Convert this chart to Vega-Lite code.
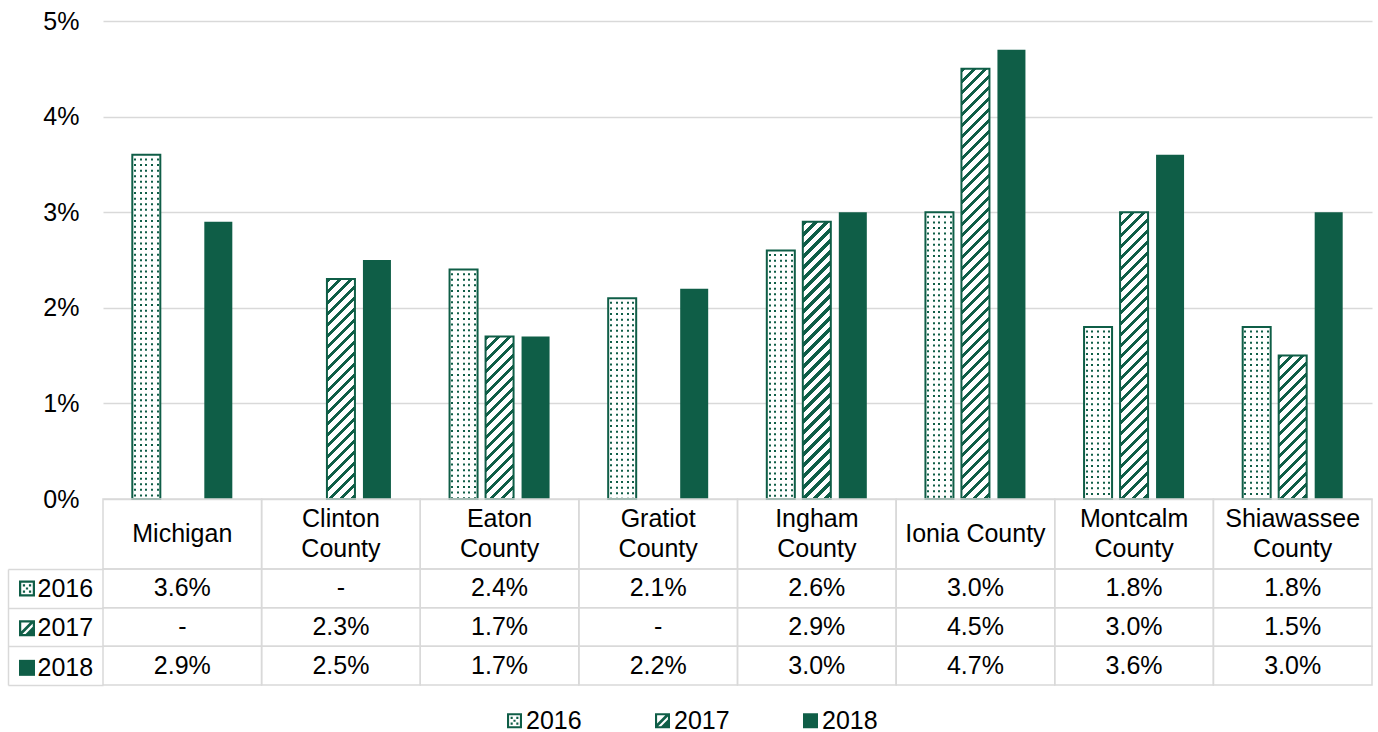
{
  "$schema": "https://vega.github.io/schema/vega-lite/v6.json",
  "background": "white",
  "padding": {"left": 7, "top": 9, "right": 0, "bottom": 0},
  "config": {
    "view": {"stroke": null},
    "font": "Liberation Sans",
    "text": {"font": "Liberation Sans"},
    "axis": {"labelFont": "Liberation Sans"},
    "legend": {"labelFont": "Liberation Sans"}
  },
  "params": [
    {"name": "hatch", "value": [
      {"offset":0,"color":"#0f5e47"},{"offset":0.00974,"color":"#0f5e47"},{"offset":0.00974,"color":"#ffffff"},{"offset":0.02381,"color":"#ffffff"},
      {"offset":0.02381,"color":"#0f5e47"},{"offset":0.03355,"color":"#0f5e47"},{"offset":0.03355,"color":"#ffffff"},{"offset":0.04762,"color":"#ffffff"},
      {"offset":0.04762,"color":"#0f5e47"},{"offset":0.05736,"color":"#0f5e47"},{"offset":0.05736,"color":"#ffffff"},{"offset":0.07143,"color":"#ffffff"},
      {"offset":0.07143,"color":"#0f5e47"},{"offset":0.08117,"color":"#0f5e47"},{"offset":0.08117,"color":"#ffffff"},{"offset":0.09524,"color":"#ffffff"},
      {"offset":0.09524,"color":"#0f5e47"},{"offset":0.10498,"color":"#0f5e47"},{"offset":0.10498,"color":"#ffffff"},{"offset":0.11905,"color":"#ffffff"},
      {"offset":0.11905,"color":"#0f5e47"},{"offset":0.12879,"color":"#0f5e47"},{"offset":0.12879,"color":"#ffffff"},{"offset":0.14286,"color":"#ffffff"},
      {"offset":0.14286,"color":"#0f5e47"},{"offset":0.1526,"color":"#0f5e47"},{"offset":0.1526,"color":"#ffffff"},{"offset":0.16667,"color":"#ffffff"},
      {"offset":0.16667,"color":"#0f5e47"},{"offset":0.17641,"color":"#0f5e47"},{"offset":0.17641,"color":"#ffffff"},{"offset":0.19048,"color":"#ffffff"},
      {"offset":0.19048,"color":"#0f5e47"},{"offset":0.20022,"color":"#0f5e47"},{"offset":0.20022,"color":"#ffffff"},{"offset":0.21429,"color":"#ffffff"},
      {"offset":0.21429,"color":"#0f5e47"},{"offset":0.22403,"color":"#0f5e47"},{"offset":0.22403,"color":"#ffffff"},{"offset":0.2381,"color":"#ffffff"},
      {"offset":0.2381,"color":"#0f5e47"},{"offset":0.24784,"color":"#0f5e47"},{"offset":0.24784,"color":"#ffffff"},{"offset":0.2619,"color":"#ffffff"},
      {"offset":0.2619,"color":"#0f5e47"},{"offset":0.27164,"color":"#0f5e47"},{"offset":0.27164,"color":"#ffffff"},{"offset":0.28571,"color":"#ffffff"},
      {"offset":0.28571,"color":"#0f5e47"},{"offset":0.29545,"color":"#0f5e47"},{"offset":0.29545,"color":"#ffffff"},{"offset":0.30952,"color":"#ffffff"},
      {"offset":0.30952,"color":"#0f5e47"},{"offset":0.31926,"color":"#0f5e47"},{"offset":0.31926,"color":"#ffffff"},{"offset":0.33333,"color":"#ffffff"},
      {"offset":0.33333,"color":"#0f5e47"},{"offset":0.34307,"color":"#0f5e47"},{"offset":0.34307,"color":"#ffffff"},{"offset":0.35714,"color":"#ffffff"},
      {"offset":0.35714,"color":"#0f5e47"},{"offset":0.36688,"color":"#0f5e47"},{"offset":0.36688,"color":"#ffffff"},{"offset":0.38095,"color":"#ffffff"},
      {"offset":0.38095,"color":"#0f5e47"},{"offset":0.39069,"color":"#0f5e47"},{"offset":0.39069,"color":"#ffffff"},{"offset":0.40476,"color":"#ffffff"},
      {"offset":0.40476,"color":"#0f5e47"},{"offset":0.4145,"color":"#0f5e47"},{"offset":0.4145,"color":"#ffffff"},{"offset":0.42857,"color":"#ffffff"},
      {"offset":0.42857,"color":"#0f5e47"},{"offset":0.43831,"color":"#0f5e47"},{"offset":0.43831,"color":"#ffffff"},{"offset":0.45238,"color":"#ffffff"},
      {"offset":0.45238,"color":"#0f5e47"},{"offset":0.46212,"color":"#0f5e47"},{"offset":0.46212,"color":"#ffffff"},{"offset":0.47619,"color":"#ffffff"},
      {"offset":0.47619,"color":"#0f5e47"},{"offset":0.48593,"color":"#0f5e47"},{"offset":0.48593,"color":"#ffffff"},{"offset":0.5,"color":"#ffffff"},
      {"offset":0.5,"color":"#0f5e47"},{"offset":0.50974,"color":"#0f5e47"},{"offset":0.50974,"color":"#ffffff"},{"offset":0.52381,"color":"#ffffff"},
      {"offset":0.52381,"color":"#0f5e47"},{"offset":0.53355,"color":"#0f5e47"},{"offset":0.53355,"color":"#ffffff"},{"offset":0.54762,"color":"#ffffff"},
      {"offset":0.54762,"color":"#0f5e47"},{"offset":0.55736,"color":"#0f5e47"},{"offset":0.55736,"color":"#ffffff"},{"offset":0.57143,"color":"#ffffff"},
      {"offset":0.57143,"color":"#0f5e47"},{"offset":0.58117,"color":"#0f5e47"},{"offset":0.58117,"color":"#ffffff"},{"offset":0.59524,"color":"#ffffff"},
      {"offset":0.59524,"color":"#0f5e47"},{"offset":0.60498,"color":"#0f5e47"},{"offset":0.60498,"color":"#ffffff"},{"offset":0.61905,"color":"#ffffff"},
      {"offset":0.61905,"color":"#0f5e47"},{"offset":0.62879,"color":"#0f5e47"},{"offset":0.62879,"color":"#ffffff"},{"offset":0.64286,"color":"#ffffff"},
      {"offset":0.64286,"color":"#0f5e47"},{"offset":0.6526,"color":"#0f5e47"},{"offset":0.6526,"color":"#ffffff"},{"offset":0.66667,"color":"#ffffff"},
      {"offset":0.66667,"color":"#0f5e47"},{"offset":0.67641,"color":"#0f5e47"},{"offset":0.67641,"color":"#ffffff"},{"offset":0.69048,"color":"#ffffff"},
      {"offset":0.69048,"color":"#0f5e47"},{"offset":0.70022,"color":"#0f5e47"},{"offset":0.70022,"color":"#ffffff"},{"offset":0.71429,"color":"#ffffff"},
      {"offset":0.71429,"color":"#0f5e47"},{"offset":0.72403,"color":"#0f5e47"},{"offset":0.72403,"color":"#ffffff"},{"offset":0.7381,"color":"#ffffff"},
      {"offset":0.7381,"color":"#0f5e47"},{"offset":0.74784,"color":"#0f5e47"},{"offset":0.74784,"color":"#ffffff"},{"offset":0.7619,"color":"#ffffff"},
      {"offset":0.7619,"color":"#0f5e47"},{"offset":0.77164,"color":"#0f5e47"},{"offset":0.77164,"color":"#ffffff"},{"offset":0.78571,"color":"#ffffff"},
      {"offset":0.78571,"color":"#0f5e47"},{"offset":0.79545,"color":"#0f5e47"},{"offset":0.79545,"color":"#ffffff"},{"offset":0.80952,"color":"#ffffff"},
      {"offset":0.80952,"color":"#0f5e47"},{"offset":0.81926,"color":"#0f5e47"},{"offset":0.81926,"color":"#ffffff"},{"offset":0.83333,"color":"#ffffff"},
      {"offset":0.83333,"color":"#0f5e47"},{"offset":0.84307,"color":"#0f5e47"},{"offset":0.84307,"color":"#ffffff"},{"offset":0.85714,"color":"#ffffff"},
      {"offset":0.85714,"color":"#0f5e47"},{"offset":0.86688,"color":"#0f5e47"},{"offset":0.86688,"color":"#ffffff"},{"offset":0.88095,"color":"#ffffff"},
      {"offset":0.88095,"color":"#0f5e47"},{"offset":0.89069,"color":"#0f5e47"},{"offset":0.89069,"color":"#ffffff"},{"offset":0.90476,"color":"#ffffff"},
      {"offset":0.90476,"color":"#0f5e47"},{"offset":0.9145,"color":"#0f5e47"},{"offset":0.9145,"color":"#ffffff"},{"offset":0.92857,"color":"#ffffff"},
      {"offset":0.92857,"color":"#0f5e47"},{"offset":0.93831,"color":"#0f5e47"},{"offset":0.93831,"color":"#ffffff"},{"offset":0.95238,"color":"#ffffff"},
      {"offset":0.95238,"color":"#0f5e47"},{"offset":0.96212,"color":"#0f5e47"},{"offset":0.96212,"color":"#ffffff"},{"offset":0.97619,"color":"#ffffff"},
      {"offset":0.97619,"color":"#0f5e47"},{"offset":0.98593,"color":"#0f5e47"},{"offset":0.98593,"color":"#ffffff"},{"offset":1,"color":"#ffffff"}
    ]}
  ],
  "datasets": {
    "rates": [
      {"area": "Michigan", "year": "2016", "pct": 0.036},
      {"area": "Michigan", "year": "2017", "pct": null},
      {"area": "Michigan", "year": "2018", "pct": 0.029},
      {"area": "Clinton\nCounty", "year": "2016", "pct": null},
      {"area": "Clinton\nCounty", "year": "2017", "pct": 0.023},
      {"area": "Clinton\nCounty", "year": "2018", "pct": 0.025},
      {"area": "Eaton\nCounty", "year": "2016", "pct": 0.024},
      {"area": "Eaton\nCounty", "year": "2017", "pct": 0.017},
      {"area": "Eaton\nCounty", "year": "2018", "pct": 0.017},
      {"area": "Gratiot\nCounty", "year": "2016", "pct": 0.021},
      {"area": "Gratiot\nCounty", "year": "2017", "pct": null},
      {"area": "Gratiot\nCounty", "year": "2018", "pct": 0.022},
      {"area": "Ingham\nCounty", "year": "2016", "pct": 0.026},
      {"area": "Ingham\nCounty", "year": "2017", "pct": 0.029},
      {"area": "Ingham\nCounty", "year": "2018", "pct": 0.030},
      {"area": "Ionia County", "year": "2016", "pct": 0.030},
      {"area": "Ionia County", "year": "2017", "pct": 0.045},
      {"area": "Ionia County", "year": "2018", "pct": 0.047},
      {"area": "Montcalm\nCounty", "year": "2016", "pct": 0.018},
      {"area": "Montcalm\nCounty", "year": "2017", "pct": 0.030},
      {"area": "Montcalm\nCounty", "year": "2018", "pct": 0.036},
      {"area": "Shiawassee\nCounty", "year": "2016", "pct": 0.018},
      {"area": "Shiawassee\nCounty", "year": "2017", "pct": 0.015},
      {"area": "Shiawassee\nCounty", "year": "2018", "pct": 0.030}
    ]
  },
  "spacing": 0,
  "bounds": "flush",
  "resolve": {
    "scale": {"x": "independent", "y": "independent", "shape": "independent"},
    "legend": {"shape": "independent"}
  },
  "vconcat": [
    {
      "width": 1269,
      "height": 478,
      "data": {"name": "rates"},
      "encoding": {
        "x": {"field": "area", "type": "nominal", "axis": null,
              "scale": {"domain": ["Michigan","Clinton\nCounty","Eaton\nCounty","Gratiot\nCounty","Ingham\nCounty","Ionia County","Montcalm\nCounty","Shiawassee\nCounty"], "paddingInner": 0.36958, "paddingOuter": 0.18479}},
        "xOffset": {"field": "year", "type": "nominal",
              "scale": {"domain": ["2016","2017","2018"], "paddingInner": 0.22222, "paddingOuter": 0}},
        "y": {"field": "pct", "type": "quantitative", "stack": null,
              "scale": {"domain": [0, 0.05], "nice": false},
              "axis": {"values": [0, 0.01, 0.02, 0.03, 0.04, 0.05], "format": ".0%", "grid": true,
                       "gridColor": "#d9d9d9", "gridWidth": 1.5, "domain": false, "ticks": false,
                       "labelFontSize": 25, "labelColor": "#000000", "labelPadding": 24, "title": null}}
      },
      "layer": [
        {
          "transform": [{"filter": "datum.year === '2016' && isValid(datum.pct)"}],
          "mark": {"type": "bar", "strokeWidth": 0,
                   "fill": {"gradient": "linear", "x1": 0, "y1": 0, "x2": 1, "y2": 0, "stops": [
                     {"offset": 0, "color": "#ffffff"}, {"offset": 0.0643, "color": "#ffffff"},
                     {"offset": 0.0643, "color": "#0f5e47"}, {"offset": 0.1357, "color": "#0f5e47"},
                     {"offset": 0.1357, "color": "#ffffff"}, {"offset": 0.2643, "color": "#ffffff"},
                     {"offset": 0.2643, "color": "#0f5e47"}, {"offset": 0.3357, "color": "#0f5e47"},
                     {"offset": 0.3357, "color": "#ffffff"}, {"offset": 0.4643, "color": "#ffffff"},
                     {"offset": 0.4643, "color": "#0f5e47"}, {"offset": 0.5357, "color": "#0f5e47"},
                     {"offset": 0.5357, "color": "#ffffff"}, {"offset": 0.6643, "color": "#ffffff"},
                     {"offset": 0.6643, "color": "#0f5e47"}, {"offset": 0.7357, "color": "#0f5e47"},
                     {"offset": 0.7357, "color": "#ffffff"}, {"offset": 0.8643, "color": "#ffffff"},
                     {"offset": 0.8643, "color": "#0f5e47"}, {"offset": 0.9357, "color": "#0f5e47"},
                     {"offset": 0.9357, "color": "#ffffff"}, {"offset": 1, "color": "#ffffff"}
                   ]}}
        },
        {
          "transform": [{"filter": "datum.year === '2016' && isValid(datum.pct)"}],
          "mark": {"type": "rule", "color": "#ffffff", "strokeWidth": 26, "strokeDash": [3.6, 2]},
          "encoding": {"y2": {"datum": 0}}
        },
        {
          "transform": [{"filter": "datum.year === '2016' && isValid(datum.pct)"}],
          "mark": {"type": "bar", "fill": "transparent", "stroke": "#0f5e47", "strokeWidth": 2}
        },
        {
          "transform": [{"filter": "datum.year === '2017' && isValid(datum.pct)"}],
          "mark": {"type": "bar", "stroke": "#0f5e47", "strokeWidth": 2,
                   "fill": {"expr": "{gradient: 'linear', x1: 0, y1: 0, x2: 12936 / (784 + pow(datum.pct * 9560, 2)), y2: 462 * datum.pct * 9560 / (784 + pow(datum.pct * 9560, 2)), stops: hatch}"}}
        },
        {
          "transform": [{"filter": "datum.year === '2018' && isValid(datum.pct)"}],
          "mark": {"type": "bar", "color": "#0f5e47", "strokeWidth": 0}
        },
        {
          "transform": [{"filter": "false"}],
          "mark": {"type": "point", "filled": true, "color": "#0f5e47", "opacity": 1, "strokeWidth": 0, "size": 225},
          "encoding": {
            "shape": {"field": "year", "type": "nominal",
              "scale": {"domain": ["2016","2017","2018"], "range": [
                "M-1,-1L1,-1L1,1L-1,1Z M-0.72,-0.72L-0.72,0.72L0.72,0.72L0.72,-0.72Z M-0.52,-0.52L-0.24,-0.52L-0.24,-0.24L-0.52,-0.24Z M0.24,-0.52L0.52,-0.52L0.52,-0.24L0.24,-0.24Z M-0.52,0.24L-0.24,0.24L-0.24,0.52L-0.52,0.52Z M0.24,0.24L0.52,0.24L0.52,0.52L0.24,0.52Z M-0.14,-0.14L0.14,-0.14L0.14,0.14L-0.14,0.14Z",
                "M-1,-1L1,-1L1,1L-1,1Z M-0.72,-0.72L-0.72,0.72L0.72,0.72L0.72,-0.72Z M-0.72,0.37L0.37,-0.72L0.72,-0.72L0.72,-0.57L-0.57,0.72L-0.72,0.72Z M0.72,-0.17L0.72,0.72L-0.17,0.72Z",
                "M-1,-1L1,-1L1,1L-1,1Z"]},
              "legend": {"orient": "none", "legendX": 399, "legendY": 687, "direction": "horizontal",
                "title": null, "symbolSize": 225, "symbolStrokeWidth": 0, "symbolFillColor": "#0f5e47",
                "symbolOpacity": 1, "labelFontSize": 25, "labelColor": "#000000", "labelOffset": -1,
                "columnPadding": 68, "padding": 0}
            }
          }
        }
      ]
    },
    {
      "width": 1269,
      "height": 70,
      "data": {"name": "rates"},
      "transform": [{"filter": "datum.year === '2016'"}],
      "encoding": {
        "x": {"field": "area", "type": "nominal", "axis": null,
              "scale": {"domain": ["Michigan","Clinton\nCounty","Eaton\nCounty","Gratiot\nCounty","Ingham\nCounty","Ionia County","Montcalm\nCounty","Shiawassee\nCounty"], "paddingInner": 0, "paddingOuter": 0}}
      },
      "layer": [
        {"mark": {"type": "rect", "fill": "transparent", "stroke": "#d9d9d9", "strokeWidth": 1.5}},
        {"mark": {"type": "text", "fontSize": 25, "lineBreak": "\n", "lineHeight": 30, "color": "#000000", "baseline": "middle",
                  "dy": {"expr": "indexof(datum.area, '\\n') >= 0 ? -15 : 0"}},
         "encoding": {"text": {"field": "area", "type": "nominal"}}}
      ]
    },
    {
      "width": 1269,
      "height": 116,
      "data": {"name": "rates"},
      "encoding": {
        "x": {"field": "area", "type": "nominal", "axis": null,
              "scale": {"domain": ["Michigan","Clinton\nCounty","Eaton\nCounty","Gratiot\nCounty","Ingham\nCounty","Ionia County","Montcalm\nCounty","Shiawassee\nCounty"], "paddingInner": 0, "paddingOuter": 0}},
        "y": {"field": "year", "type": "nominal",
              "scale": {"domain": ["2016","2017","2018"], "paddingInner": 0, "paddingOuter": 0},
              "axis": {"orient": "left", "offset": 95, "tickBand": "extent", "tickSize": -95,
                       "tickColor": "#d9d9d9", "tickWidth": 1.5, "domainColor": "#d9d9d9", "domainWidth": 1.5,
                       "labels": false, "title": null, "grid": false}}
      },
      "layer": [
        {"mark": {"type": "rect", "fill": "transparent", "stroke": "#d9d9d9", "strokeWidth": 1.5}},
        {"mark": {"type": "text", "fontSize": 25, "color": "#000000", "baseline": "middle"},
         "encoding": {"text": {"field": "pct", "type": "quantitative", "format": ".1%",
                               "condition": {"test": "!isValid(datum.pct)", "value": "-"}}}},
        {
          "transform": [{"filter": "false"}],
          "mark": {"type": "point", "filled": true, "color": "#0f5e47", "opacity": 1, "strokeWidth": 0, "size": 256},
          "encoding": {
            "shape": {"field": "year", "type": "nominal",
              "scale": {"domain": ["2016","2017","2018"], "range": [
                "M-1,-1L1,-1L1,1L-1,1Z M-0.72,-0.72L-0.72,0.72L0.72,0.72L0.72,-0.72Z M-0.52,-0.52L-0.24,-0.52L-0.24,-0.24L-0.52,-0.24Z M0.24,-0.52L0.52,-0.52L0.52,-0.24L0.24,-0.24Z M-0.52,0.24L-0.24,0.24L-0.24,0.52L-0.52,0.52Z M0.24,0.24L0.52,0.24L0.52,0.52L0.24,0.52Z M-0.14,-0.14L0.14,-0.14L0.14,0.14L-0.14,0.14Z",
                "M-1,-1L1,-1L1,1L-1,1Z M-0.72,-0.72L-0.72,0.72L0.72,0.72L0.72,-0.72Z M-0.72,0.37L0.37,-0.72L0.72,-0.72L0.72,-0.57L-0.57,0.72L-0.72,0.72Z M0.72,-0.17L0.72,0.72L-0.17,0.72Z",
                "M-1,-1L1,-1L1,1L-1,1Z"]},
              "legend": {"orient": "none", "legendX": -88.5, "legendY": 7, "direction": "vertical",
                "title": null, "symbolSize": 256, "symbolStrokeWidth": 0, "symbolFillColor": "#0f5e47",
                "symbolOpacity": 1, "labelFontSize": 25, "labelColor": "#000000", "labelOffset": -2,
                "rowPadding": 13.67, "padding": 0}
            }
          }
        }
      ]
    }
  ]
}
